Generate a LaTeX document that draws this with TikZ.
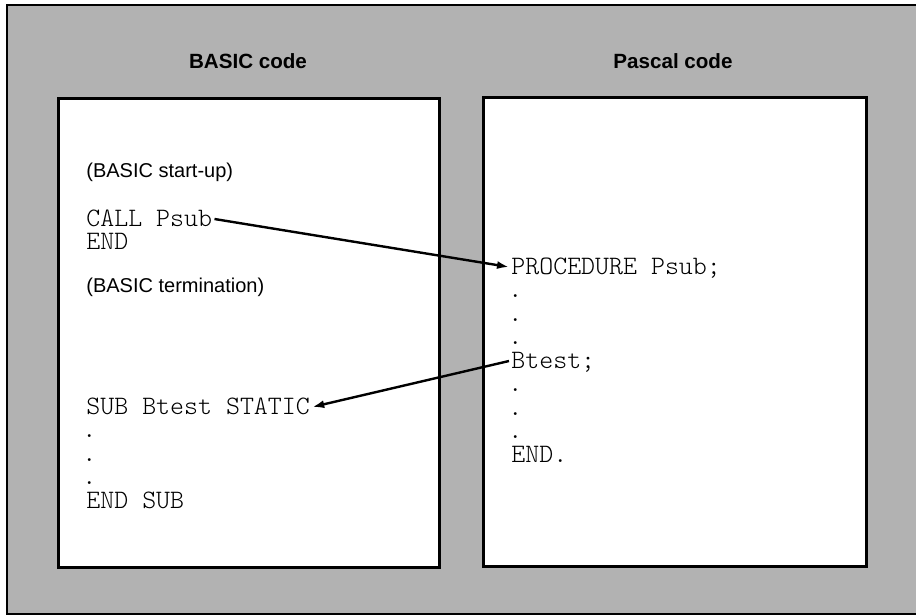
\documentclass[tikz,border=0pt]{standalone}
\usepackage{fontspec}
\setmainfont{Liberation Sans}
\setmonofont{Latin Modern Mono Light}
\usetikzlibrary{arrows.meta}
\definecolor{paper}{RGB}{178,178,178}
\tikzset{
	code/.style={font=\ttfamily\fontsize{13.3}{15}\selectfont, anchor=base west, inner xsep=1pt, inner ysep=0pt, text height=7pt, text depth=0pt},
	note/.style={font=\fontsize{10}{12}\selectfont, anchor=base west, inner sep=0pt},
	heading/.style={font=\bfseries\fontsize{10.3}{12}\selectfont, anchor=base, inner sep=0pt},
	jump/.style={line width=1.2pt, -{Latex[length=6pt,width=4pt]}},
}

\begin{document}
\begin{tikzpicture}[x=0.5pt, y=-0.5pt]
			%%%%% START %%%%%
			\useasboundingbox (0, 0) rectangle (916, 616);
			
			\draw[line width=1.3pt, fill=paper] (7, 5) rectangle (922, 614);
			\draw[line width=1.5pt, fill=white] (58, 98) rectangle (439, 567);
			\draw[line width=1.5pt, fill=white] (483, 97) rectangle (866, 566);
			
			\node[heading] (basic) at (248, 68) {BASIC code};
			\node[heading] (pascal) at (673, 68) {Pascal code};
			
			\node[note] (startup) at (86, 177) {(BASIC start-up)};
			\node[code] (call) at (84, 226) {CALL Psub};
			\node[code] (end) at (84, 249.5) {END};
			\node[note] (term) at (86, 292) {(BASIC termination)};
			
			\node[code] (sub) at (84, 414) {SUB Btest STATIC};
			\node[code] (subdotA) at (80, 437.5) {.};
			\node[code] (subdotB) at (80, 461) {.};
			\node[code] (subdotC) at (80, 484.5) {.};
			\node[code] (endsub) at (84, 508) {END SUB};
			
			\node[code] (proc) at (509, 274) {PROCEDURE Psub;};
			\node[code] (procdotA) at (506, 297.5) {.};
			\node[code] (procdotB) at (506, 321) {.};
			\node[code] (procdotC) at (506, 344.5) {.};
			\node[code] (btest) at (509, 368) {Btest;};
			\node[code] (procdotD) at (506, 391.5) {.};
			\node[code] (procdotE) at (506, 415) {.};
			\node[code] (procdotF) at (506, 438.5) {.};
			\node[code] (procend) at (509, 462) {END.};
			
			\draw[jump] (call.east) -- (proc.west);
			\draw[jump] (btest.west) -- (sub.east);
			
			%%%%% END %%%%%
\end{tikzpicture}
\end{document}
